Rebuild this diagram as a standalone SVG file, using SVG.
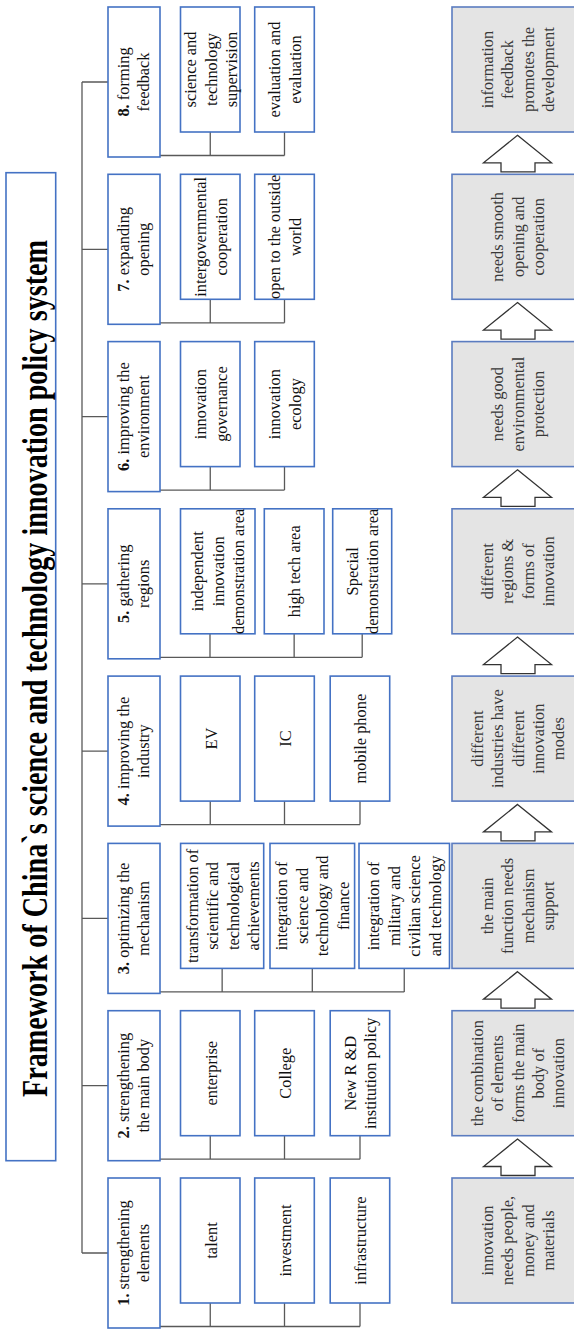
<svg xmlns="http://www.w3.org/2000/svg" width="574" height="1329" viewBox="0 0 574 1329">
<style>
.box{fill:#fff;stroke:#4472c4;stroke-width:1.6}
.grey{fill:#e4e4e4;stroke:#5b7cc0;stroke-width:1.6}
.t{font-family:"Liberation Serif","Times New Roman",serif;font-size:16.4px;fill:#111;text-anchor:middle}
.g{fill:#383838}
.b{font-weight:bold}
.title{font-family:"Liberation Serif","Times New Roman",serif;font-size:35px;font-weight:bold;fill:#000;text-anchor:middle}
.conn{fill:none;stroke:#595959;stroke-width:1.3}
.arrow{fill:#fff;stroke:#333;stroke-width:1.3}
</style>
<rect x="0" y="0" width="574" height="1329" fill="#fff"/>

<g id="connectors">
<path class="conn" d="M82 82 V1253 M82 82 H108 M82 249.3 H108 M82 416.6 H108 M82 583.8 H108 M82 751.1 H108 M82 918.4 H108 M82 1085.7 H108 M82 1253 H108"/>
<path class="conn" d="M160 155.5 H284.5 M210.25 132 V155.5 M284.5 132 V155.5"/>
<path class="conn" d="M160 322.8 H284.5 M210.25 299.3 V322.8 M284.5 299.3 V322.8"/>
<path class="conn" d="M160 490.1 H284.5 M210.25 466.6 V490.1 M284.5 466.6 V490.1"/>
<path class="conn" d="M160 657.3 H362.2 M210 633.8 V657.3 M294.15 633.8 V657.3 M362.2 633.8 V657.3"/>
<path class="conn" d="M160 824.6 H360 M210.25 801.1 V824.6 M284.5 801.1 V824.6 M360 801.1 V824.6"/>
<path class="conn" d="M160 991.9 H404.25 M222.15 968.4 V991.9 M312.3 968.4 V991.9 M404.25 968.4 V991.9"/>
<path class="conn" d="M160 1159.2 H360 M210.25 1135.7 V1159.2 M284.5 1135.7 V1159.2 M360 1135.7 V1159.2"/>
<path class="conn" d="M160 1326.5 H360 M210.25 1303 V1326.5 M284.5 1303 V1326.5 M360 1303 V1326.5"/>
<polygon class="arrow" points="517.5,135.3 551.5,162.8 535,162.8 535,171.8 501,171.8 501,162.8 483.5,162.8"/>
<polygon class="arrow" points="517.5,302.6 551.5,330.1 535,330.1 535,339.1 501,339.1 501,330.1 483.5,330.1"/>
<polygon class="arrow" points="517.5,469.8 551.5,497.3 535,497.3 535,506.3 501,506.3 501,497.3 483.5,497.3"/>
<polygon class="arrow" points="517.5,637.1 551.5,664.6 535,664.6 535,673.6 501,673.6 501,664.6 483.5,664.6"/>
<polygon class="arrow" points="517.5,804.4 551.5,831.9 535,831.9 535,840.9 501,840.9 501,831.9 483.5,831.9"/>
<polygon class="arrow" points="517.5,971.7 551.5,999.2 535,999.2 535,1008.2 501,1008.2 501,999.2 483.5,999.2"/>
<polygon class="arrow" points="517.5,1139 551.5,1166.5 535,1166.5 535,1175.5 501,1175.5 501,1166.5 483.5,1166.5"/>
</g>

<g id="title">
<rect class="box" x="6" y="172.7" width="49.7" height="988"/>
<text class="title" transform="translate(46.5,668.5) rotate(-90)" x="0" y="0" textLength="857" lengthAdjust="spacingAndGlyphs">Framework of China`s science and technology innovation policy system</text>
</g>

<!-- category 8 -->
<g id="cat8">
<rect class="box" x="108" y="7" width="52" height="150"/>
<text class="t" transform="translate(134,82) rotate(-90)"><tspan x="0" y="-5.2"><tspan class="b">8.</tspan> forming</tspan><tspan x="0" y="15.2">feedback</tspan></text>
</g>
<g id="c8a"><rect class="box" x="180.5" y="7" width="59.5" height="125"/>
<text class="t" transform="translate(211.5,69.5) rotate(-90)"><tspan x="0" y="-15.4">science and</tspan><tspan x="0" y="5">technology</tspan><tspan x="0" y="25.4">supervision</tspan></text></g>
<g id="c8b"><rect class="box" x="254.7" y="7" width="59.6" height="125"/>
<text class="t" transform="translate(285.5,69.5) rotate(-90)"><tspan x="0" y="-5.2">evaluation and</tspan><tspan x="0" y="15.2">evaluation</tspan></text></g>
<g id="g8"><rect class="grey" x="452" y="7" width="132" height="125"/>
<text class="t g" transform="translate(518.5,69.5) rotate(-90)"><tspan x="0" y="-25.6">information</tspan><tspan x="0" y="-5.2">feedback</tspan><tspan x="0" y="15.2">promotes the</tspan><tspan x="0" y="35.6">development</tspan></text></g>

<!-- category 7 -->
<g id="cat7">
<rect class="box" x="108" y="174.3" width="52" height="150"/>
<text class="t" transform="translate(134,249.3) rotate(-90)"><tspan x="0" y="-5.2"><tspan class="b">7.</tspan> expanding</tspan><tspan x="0" y="15.2">opening</tspan></text>
</g>
<g id="c7a"><rect class="box" x="180.5" y="174.3" width="59.5" height="125"/>
<text class="t" transform="translate(211.5,236.8) rotate(-90)"><tspan x="0" y="-5.2">intergovernmental</tspan><tspan x="0" y="15.2">cooperation</tspan></text></g>
<g id="c7b"><rect class="box" x="254.7" y="174.3" width="59.6" height="125"/>
<text class="t" transform="translate(285.5,236.8) rotate(-90)"><tspan x="0" y="-5.2">open to the outside</tspan><tspan x="0" y="15.2">world</tspan></text></g>
<g id="g7"><rect class="grey" x="452" y="174.3" width="132" height="125"/>
<text class="t g" transform="translate(518.5,236.8) rotate(-90)"><tspan x="0" y="-15.4">needs smooth</tspan><tspan x="0" y="5">opening and</tspan><tspan x="0" y="25.4">cooperation</tspan></text></g>

<!-- category 6 -->
<g id="cat6">
<rect class="box" x="108" y="341.6" width="52" height="150"/>
<text class="t" transform="translate(134,416.6) rotate(-90)"><tspan x="0" y="-5.2"><tspan class="b">6.</tspan> improving the</tspan><tspan x="0" y="15.2">environment</tspan></text>
</g>
<g id="c6a"><rect class="box" x="180.5" y="341.6" width="59.5" height="125"/>
<text class="t" transform="translate(211.5,404.1) rotate(-90)"><tspan x="0" y="-5.2">innovation</tspan><tspan x="0" y="15.2">governance</tspan></text></g>
<g id="c6b"><rect class="box" x="254.7" y="341.6" width="59.6" height="125"/>
<text class="t" transform="translate(285.5,404.1) rotate(-90)"><tspan x="0" y="-5.2">innovation</tspan><tspan x="0" y="15.2">ecology</tspan></text></g>
<g id="g6"><rect class="grey" x="452" y="341.6" width="132" height="125"/>
<text class="t g" transform="translate(518.5,404.1) rotate(-90)"><tspan x="0" y="-15.4">needs good</tspan><tspan x="0" y="5">environmental</tspan><tspan x="0" y="25.4">protection</tspan></text></g>

<!-- category 5 -->
<g id="cat5">
<rect class="box" x="108" y="508.8" width="52" height="150"/>
<text class="t" transform="translate(134,583.8) rotate(-90)"><tspan x="0" y="-5.2"><tspan class="b">5.</tspan> gathering</tspan><tspan x="0" y="15.2">regions</tspan></text>
</g>
<g id="c5a"><rect class="box" x="180.5" y="508.8" width="74.5" height="125"/>
<text class="t" transform="translate(218.5,571.3) rotate(-90)"><tspan x="0" y="-15.4">independent</tspan><tspan x="0" y="5">innovation</tspan><tspan x="0" y="25.4">demonstration area</tspan></text></g>
<g id="c5b"><rect class="box" x="264.3" y="508.8" width="59.7" height="125"/>
<text class="t" transform="translate(295,571.3) rotate(-90)"><tspan x="0" y="5">high tech area</tspan></text></g>
<g id="c5c"><rect class="box" x="332.7" y="508.8" width="59" height="125"/>
<text class="t" transform="translate(363,571.3) rotate(-90)"><tspan x="0" y="-5.2">Special</tspan><tspan x="0" y="15.2">demonstration area</tspan></text></g>
<g id="g5"><rect class="grey" x="452" y="508.8" width="132" height="125"/>
<text class="t g" transform="translate(518.5,571.3) rotate(-90)"><tspan x="0" y="-25.6">different</tspan><tspan x="0" y="-5.2">regions &amp;</tspan><tspan x="0" y="15.2">forms of</tspan><tspan x="0" y="35.6">innovation</tspan></text></g>

<!-- category 4 -->
<g id="cat4">
<rect class="box" x="108" y="676.1" width="52" height="150"/>
<text class="t" transform="translate(134,751.1) rotate(-90)"><tspan x="0" y="-5.2"><tspan class="b">4.</tspan> improving the</tspan><tspan x="0" y="15.2">industry</tspan></text>
</g>
<g id="c4a"><rect class="box" x="180.5" y="676.1" width="59.5" height="125"/>
<text class="t" transform="translate(211.5,738.6) rotate(-90)"><tspan x="0" y="5">EV</tspan></text></g>
<g id="c4b"><rect class="box" x="254.7" y="676.1" width="59.6" height="125"/>
<text class="t" transform="translate(285.5,738.6) rotate(-90)"><tspan x="0" y="5">IC</tspan></text></g>
<g id="c4c"><rect class="box" x="330.2" y="676.1" width="59.5" height="125"/>
<text class="t" transform="translate(361,738.6) rotate(-90)"><tspan x="0" y="5">mobile phone</tspan></text></g>
<g id="g4"><rect class="grey" x="452" y="676.1" width="132" height="125"/>
<text class="t g" transform="translate(518.5,738.6) rotate(-90)"><tspan x="0" y="-35.8">different</tspan><tspan x="0" y="-15.4">industries have</tspan><tspan x="0" y="5">different</tspan><tspan x="0" y="25.4">innovation</tspan><tspan x="0" y="45.8">modes</tspan></text></g>

<!-- category 3 -->
<g id="cat3">
<rect class="box" x="108" y="843.4" width="52" height="150"/>
<text class="t" transform="translate(134,918.4) rotate(-90)"><tspan x="0" y="-5.2"><tspan class="b">3.</tspan> optimizing the</tspan><tspan x="0" y="15.2">mechanism</tspan></text>
</g>
<g id="c3a"><rect class="box" x="180.6" y="843.4" width="83.1" height="125"/>
<text class="t" transform="translate(223.5,905.9) rotate(-90)"><tspan x="0" y="-25.6">transformation of</tspan><tspan x="0" y="-5.2">scientific and</tspan><tspan x="0" y="15.2">technological</tspan><tspan x="0" y="35.6">achievements</tspan></text></g>
<g id="c3b"><rect class="box" x="270" y="843.4" width="84.6" height="125"/>
<text class="t" transform="translate(313,905.9) rotate(-90)"><tspan x="0" y="-25.6">integration of</tspan><tspan x="0" y="-5.2">science and</tspan><tspan x="0" y="15.2">technology and</tspan><tspan x="0" y="35.6">finance</tspan></text></g>
<g id="c3c"><rect class="box" x="359" y="843.4" width="90.5" height="125"/>
<text class="t" transform="translate(405,905.9) rotate(-90)"><tspan x="0" y="-25.6">integration of</tspan><tspan x="0" y="-5.2">military and</tspan><tspan x="0" y="15.2">civilian science</tspan><tspan x="0" y="35.6">and technology</tspan></text></g>
<g id="g3"><rect class="grey" x="452" y="843.4" width="132" height="125"/>
<text class="t g" transform="translate(518.5,905.9) rotate(-90)"><tspan x="0" y="-25.6">the main</tspan><tspan x="0" y="-5.2">function needs</tspan><tspan x="0" y="15.2">mechanism</tspan><tspan x="0" y="35.6">support</tspan></text></g>

<!-- category 2 -->
<g id="cat2">
<rect class="box" x="108" y="1010.7" width="52" height="150"/>
<text class="t" transform="translate(134,1085.7) rotate(-90)"><tspan x="0" y="-5.2"><tspan class="b">2.</tspan> strengthening</tspan><tspan x="0" y="15.2">the main body</tspan></text>
</g>
<g id="c2a"><rect class="box" x="180.5" y="1010.7" width="59.5" height="125"/>
<text class="t" transform="translate(211.5,1073.2) rotate(-90)"><tspan x="0" y="5">enterprise</tspan></text></g>
<g id="c2b"><rect class="box" x="254.7" y="1010.7" width="59.6" height="125"/>
<text class="t" transform="translate(285.5,1073.2) rotate(-90)"><tspan x="0" y="5">College</tspan></text></g>
<g id="c2c"><rect class="box" x="330.2" y="1010.7" width="59.5" height="125"/>
<text class="t" transform="translate(361,1073.2) rotate(-90)"><tspan x="0" y="-5.2">New R &amp;D</tspan><tspan x="0" y="15.2">institution policy</tspan></text></g>
<g id="g2"><rect class="grey" x="452" y="1010.7" width="132" height="125"/>
<text class="t g" transform="translate(518.5,1073.2) rotate(-90)"><tspan x="0" y="-35.8">the combination</tspan><tspan x="0" y="-15.4">of elements</tspan><tspan x="0" y="5">forms the main</tspan><tspan x="0" y="25.4">body of</tspan><tspan x="0" y="45.8">innovation</tspan></text></g>

<!-- category 1 -->
<g id="cat1">
<rect class="box" x="108" y="1178" width="52" height="150"/>
<text class="t" transform="translate(134,1253) rotate(-90)"><tspan x="0" y="-5.2"><tspan class="b">1.</tspan> strengthening</tspan><tspan x="0" y="15.2">elements</tspan></text>
</g>
<g id="c1a"><rect class="box" x="180.5" y="1178" width="59.5" height="125"/>
<text class="t" transform="translate(211.5,1240.5) rotate(-90)"><tspan x="0" y="5">talent</tspan></text></g>
<g id="c1b"><rect class="box" x="254.7" y="1178" width="59.6" height="125"/>
<text class="t" transform="translate(285.5,1240.5) rotate(-90)"><tspan x="0" y="5">investment</tspan></text></g>
<g id="c1c"><rect class="box" x="330.2" y="1178" width="59.5" height="125"/>
<text class="t" transform="translate(361,1240.5) rotate(-90)"><tspan x="0" y="5">infrastructure</tspan></text></g>
<g id="g1"><rect class="grey" x="452" y="1178" width="132" height="125"/>
<text class="t g" transform="translate(518.5,1240.5) rotate(-90)"><tspan x="0" y="-25.6">innovation</tspan><tspan x="0" y="-5.2">needs people,</tspan><tspan x="0" y="15.2">money and</tspan><tspan x="0" y="35.6">materials</tspan></text></g>
</svg>
